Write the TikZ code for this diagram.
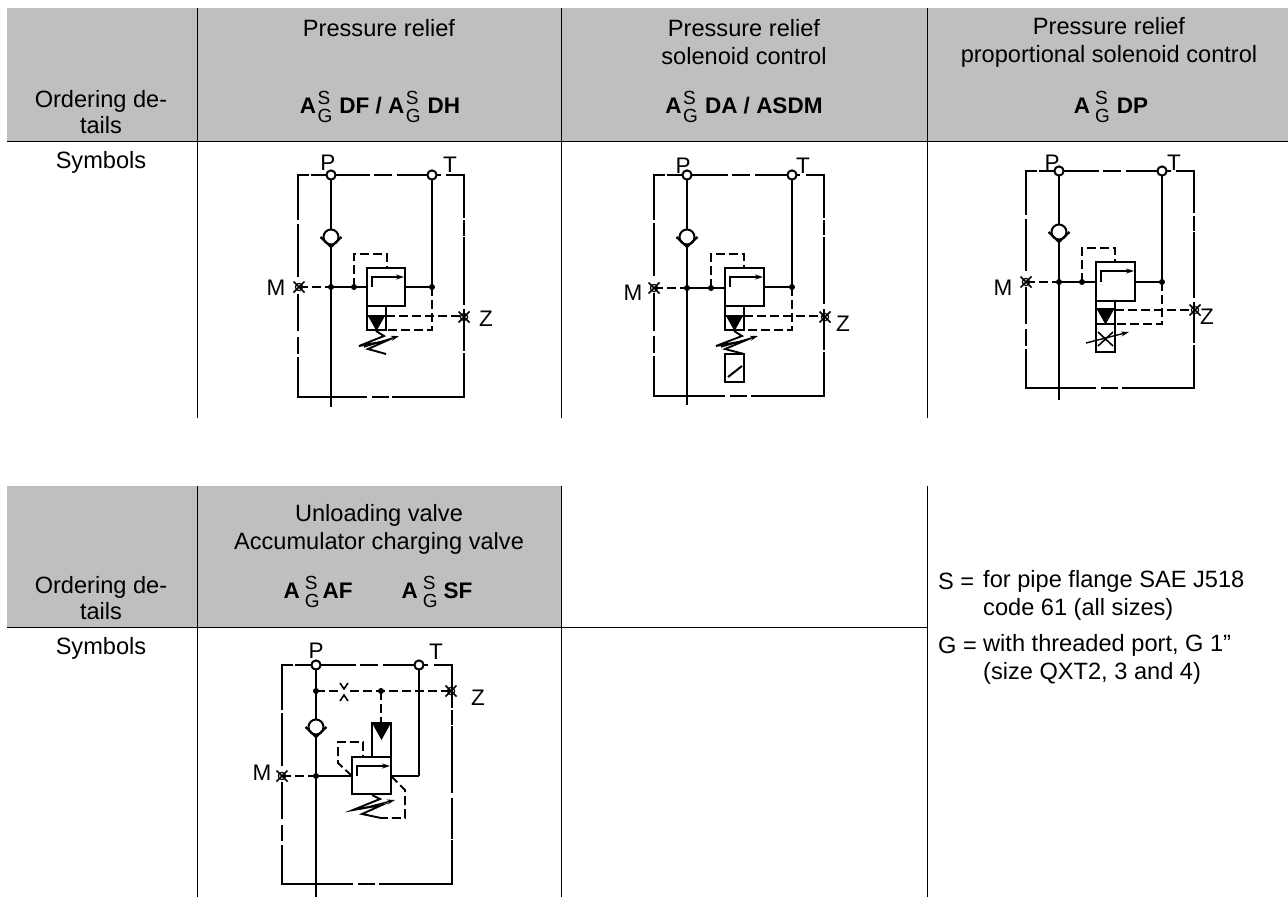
\documentclass[tikz,border=0pt]{standalone}
\usepackage{fontspec}
\setmainfont{Liberation Sans}
\usetikzlibrary{arrows.meta}
\newcommand{\SG}{\mbox{\rlap{\raisebox{.42em}{\fontsize{19}{19}\selectfont\mdseries S}}\raisebox{-.42em}{\fontsize{19}{19}\selectfont\mdseries G}}}
\definecolor{headgray}{RGB}{191,191,191}
\tikzset{
  x=1pt,y=-1pt,
  txt/.style={font=\fontsize{23.6}{28}\selectfont,inner sep=0pt,align=center,text=black},
  txttwo/.style={font=\fontsize{23.6}{25.5}\selectfont,inner sep=0pt,align=center,text=black},
  code/.style={font=\fontsize{22.5}{26}\selectfont\bfseries,inner sep=0pt,align=center,text=black},
  lbl/.style={font=\fontsize{22.5}{24}\selectfont,inner sep=0pt,text=black},
  txtl/.style={font=\fontsize{23.6}{28}\selectfont,inner sep=0pt,anchor=west,text=black},
  sol/.style={line width=2pt},
  pil/.style={line width=1.9pt,dash pattern=on 9pt off 4pt},
  framepart/.style={line width=2pt,line cap=rect},
  rule/.style={line width=1pt,draw=black},
  head/.style={fill=headgray,draw=none},
  tip/.style={-{Stealth[length=8pt,width=5pt]},line width=1.4pt},
  spr/.style={line width=1.9pt,line join=miter},
}
\newcommand{\portmark}[2]{\draw[line width=1.2pt] (#1,#2) circle (3.6pt);
  \draw[line width=1.5pt] (#1-5.5,#2-5.5) -- (#1+5.5,#2+5.5) (#1-5.5,#2+5.5) -- (#1+5.5,#2-5.5);}
\newcommand{\junction}[2]{\fill (#1,#2) circle (3pt);}
\newcommand{\openport}[2]{\draw[sol,fill=white] (#1,#2) circle (4.6pt);}
\newcommand{\checkv}[2]{\draw[sol,fill=white] (#1,#2) circle (7.5pt);
  \draw[line width=2.2pt] (#1-10.5,#2) -- (#1,#2+10) -- (#1+10.5,#2);}
\newcommand{\mainvalve}[4]{\draw[sol,fill=white] (#1,#2) rectangle (#3,#4);}
% enclosure: chain-dashed frame, pieces given as fractions of each side
\newcommand{\hframe}[4]{%
  \foreach \a/\b in {0/.06,.085/.2,.22/.43,.465/.56,.60/.81,.84/.855,.90/1}
    {\draw[framepart] ({#1+\a*(#3-#1)},#2) -- ({#1+\b*(#3-#1)},#2);}
  \foreach \a/\b in {0/.41,.45/.54,.575/1}
    {\draw[framepart] ({#1+\a*(#3-#1)},#4) -- ({#1+\b*(#3-#1)},#4);}
  \foreach \a/\b in {0/.2,.225/.455,.54/.70,.735/.80,.825/1}
    {\draw[framepart] (#1,{#2+\a*(#4-#2)}) -- (#1,{#2+\b*(#4-#2)});}
  \foreach \a/\b in {0/.19,.21/.27,.285/.58,.61/.79,.805/1}
    {\draw[framepart] (#3,{#2+\a*(#4-#2)}) -- (#3,{#2+\b*(#4-#2)});}
}
\begin{document}
\begin{tikzpicture}
\useasboundingbox (0,0) rectangle (1288,897);
% ---------- table 1
\fill[head] (7,8) rectangle (1288,141);
\draw[rule] (7,141) -- (1288,141);
\draw[rule] (197,8) -- (197,418);
\draw[rule] (561,8) -- (561,418);
\draw[rule] (927,8) -- (927,418);
\node[txttwo] (o1) at (101,112) {Ordering de-\\tails};
\node[txt] (s1) at (101,162) {Symbols};
\node[txt] (h1) at (379,28) {Pressure relief};
\node[txt] (h2) at (744,42) {Pressure relief\\solenoid control};
\node[txt] (h3) at (1109,42) {Pressure relief\\proportional solenoid control};
\node[code] (c1) at (380,107) {A\hspace{1.5pt}\SG\hspace{7pt}DF / A\hspace{1.5pt}\SG\hspace{7pt}DH};
\node[code] (c2) at (744,107) {A\hspace{1.5pt}\SG\hspace{7pt}DA / ASDM};
\node[code] (c3) at (1111,107) {A\hspace{5pt}\SG\hspace{7pt}DP};
% ---------- table 2
\fill[head] (7,486) rectangle (561,627);
\draw[rule] (7,627) -- (927,627);
\draw[rule] (197,486) -- (197,897);
\draw[rule] (561,486) -- (561,897);
\draw[rule] (927,486) -- (927,897);
\node[txttwo] (o2) at (101,598) {Ordering de-\\tails};
\node[txt] (s2) at (101,648) {Symbols};
\node[txt] (h4) at (379,529) {Unloading valve\\Accumulator charging valve};
\node[code] (c4) at (378,592) {A\hspace{5pt}\SG\hspace{3pt}AF\hspace{49pt}A\hspace{5pt}\SG\hspace{6pt}SF};
\node[txtl] (n1a) at (938,581) {S =};
\node[txtl] (n1) at (983,581) {for pipe flange SAE J518};
\node[txtl] (n2) at (983,609) {code 61 (all sizes)};
\node[txtl] (n3a) at (938,645) {G =};
\node[txtl] (n3) at (983,645) {with threaded port, G 1”};
\node[txtl] (n4) at (983,673) {(size QXT2, 3 and 4)};
% ---------- symbol 1
\hframe{298}{174.5}{464}{397}
\draw[sol] (331,175) -- (331,407);
\draw[sol] (432,175) -- (432,287);
\checkv{331}{237}
\draw[pil] (299,287) -- (331,287);
\draw[sol] (331,287) -- (367,287) (405,287) -- (432,287);
\draw[pil] (354,287) -- (354,254) -- (387,254) -- (387,268);
\draw[pil] (432,287) -- (432,330) -- (387,330);
\draw[pil] (386,316) -- (464,316);
\mainvalve{367}{268}{405}{306}
\draw[sol] (367,306) -- (367,330) -- (386,330) -- (386,306);
\draw[sol] (367,316) -- (386,316);
\fill (368,316) -- (385,316) -- (376.5,331) -- cycle;
\draw[sol] (372,287) -- (372,277) -- (390,277);
\draw[tip] (388,277) -- (404,277);
\draw[spr] (376,331) -- (384,336) -- (359,346) -- (386,341) -- (368,349) -- (386,354);
\draw[tip] (364,347) -- (399,336);
\junction{331}{287}\junction{354}{287}\junction{432}{287}
\openport{331}{175}\openport{432}{175}
\portmark{299}{287}\portmark{464}{317}
\node[lbl] (p1) at (328,163) {P};
\node[lbl] (t1) at (450,165) {T};
\node[lbl] (m1) at (276,288) {M};
\node[lbl] (z1) at (486,319) {Z};
% ---------- symbol 2
\hframe{654}{174.5}{824}{396}
\draw[sol] (687,175) -- (687,405);
\draw[sol] (792,175) -- (792,287);
\checkv{687}{237}
\draw[pil] (654,288) -- (687,288);
\draw[sol] (687,288) -- (725,288) (764,287) -- (792,287);
\draw[pil] (711,288) -- (711,254) -- (744,254) -- (744,268);
\draw[pil] (792,287) -- (792,330) -- (744,330);
\draw[pil] (744,316) -- (824,316);
\mainvalve{725}{268}{764}{306}
\draw[sol] (725,306) -- (725,330) -- (744,330) -- (744,306);
\draw[sol] (725,316) -- (744,316);
\fill (726,316) -- (743,316) -- (734.5,331) -- cycle;
\draw[sol] (730,287) -- (730,277) -- (750,277);
\draw[tip] (748,277) -- (763,277);
\draw[spr] (734,331) -- (742,336) -- (716,346) -- (744,341) -- (725,349) -- (744,354);
\draw[tip] (721,347) -- (758,336);
\draw[sol] (725,354) rectangle (744,382);
\draw[sol] (728,377) -- (742,366);
\junction{687}{288}\junction{711}{288}\junction{792}{287}
\openport{687}{175}\openport{792}{175}
\portmark{654}{288}\portmark{825}{317}
\node[lbl] (p2) at (683,166) {P};
\node[lbl] (t2) at (803,166) {T};
\node[lbl] (m2) at (633,293) {M};
\node[lbl] (z2) at (843,324) {Z};
% ---------- symbol 3
\hframe{1026}{171}{1194}{388}
\draw[sol] (1059,171) -- (1059,400);
\draw[sol] (1162,171) -- (1162,282);
\checkv{1059}{232}
\draw[pil] (1026,282) -- (1059,282);
\draw[sol] (1059,282) -- (1096,282) (1135,282) -- (1162,282);
\draw[pil] (1082,282) -- (1082,248) -- (1115,248) -- (1115,262);
\draw[pil] (1162,282) -- (1162,324) -- (1115,324);
\draw[pil] (1115,310) -- (1194,310);
\mainvalve{1096}{262}{1135}{301}
\draw[sol] (1096,301) rectangle (1115,352);
\draw[sol] (1096,309) -- (1115,309);
\draw[sol] (1096,324) -- (1115,324);
\fill (1097,309.5) -- (1114,309.5) -- (1105.5,324.5) -- cycle;
\draw[sol] (1101,282) -- (1101,271) -- (1120,271);
\draw[tip] (1118,271) -- (1134,271);
\draw[line width=1.6pt] (1098,332) -- (1113,346) (1098,346) -- (1113,332);
\draw[tip] (1086,343) -- (1129,332);
\junction{1059}{282}\junction{1082}{282}\junction{1162}{282}
\openport{1059}{171}\openport{1162}{171}
\portmark{1026}{282}\portmark{1195}{310}
\node[lbl] (p3) at (1052,163) {P};
\node[lbl] (t3) at (1174,163) {T};
\node[lbl] (m3) at (1003,288) {M};
\node[lbl] (z3) at (1207,317) {Z};
% ---------- symbol 4
\hframe{282}{665}{452}{884}
\draw[sol] (316,665) -- (316,897);
\draw[sol] (419,665) -- (419,776);
\checkv{316}{727}
\draw[pil] (316,691) -- (338,691) (350,691) -- (451,691);
\draw[line width=1.6pt] (340,683) -- (344,689) -- (348,683) (340,701) -- (344,695) -- (348,701);
\draw[pil] (381,691) -- (381,723);
\draw[pil] (282,776) -- (316,776);
\draw[sol] (316,776) -- (352,776) (391,776) -- (419,776);
\draw[pil] (352,776) -- (338,763) -- (338,742) -- (363,742) -- (363,757);
\draw[pil] (391,776) -- (405,790) -- (405,818) -- (380,818);
\draw[sol] (372,757) -- (372,723) -- (391,723) -- (391,757);
\fill (372,723) -- (391,723) -- (381.5,740) -- cycle;
\mainvalve{352}{757}{391}{794}
\draw[sol] (357,776) -- (357,766) -- (376,766);
\draw[tip] (374,766) -- (390,766);
\draw[spr] (372,795) -- (380,799) -- (353,810) -- (382,805) -- (362,814) -- (381,818);
\draw[tip] (360,809) -- (395,800);
\junction{316}{691}\junction{381}{691}\junction{316}{776}
\openport{316}{665}\openport{419}{665}
\portmark{282}{776}\portmark{451}{691}
\node[lbl] (p4) at (316,651) {P};
\node[lbl] (t4) at (436,652) {T};
\node[lbl] (m4) at (262,773) {M};
\node[lbl] (z4) at (478,698) {Z};
\end{tikzpicture}
\end{document}
